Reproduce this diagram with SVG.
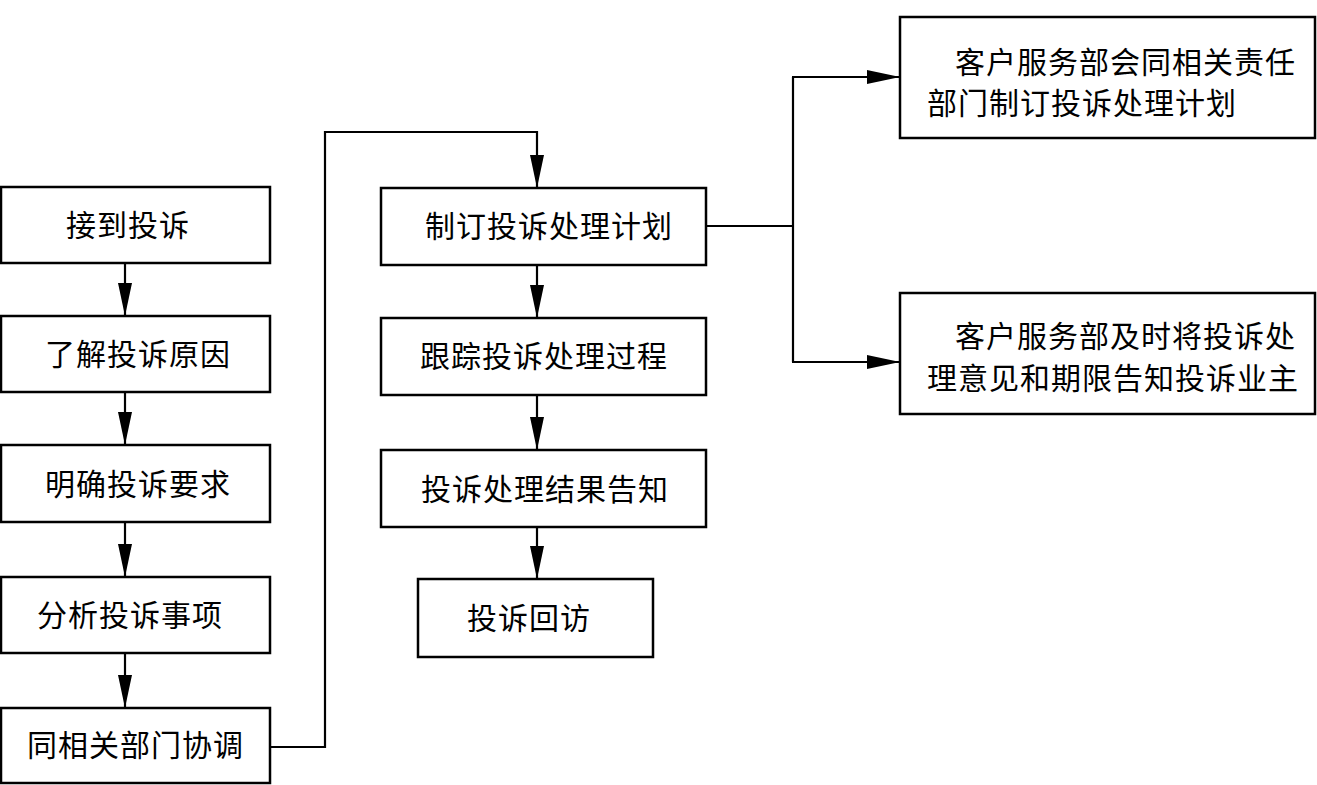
<svg xmlns="http://www.w3.org/2000/svg" width="1317" height="785" viewBox="0 0 1317 785">
<style>
.box{fill:#fff;stroke:#000;stroke-width:2.5}
.t{font-family:"Noto Sans CJK SC","Noto Sans CJK TC",sans-serif;font-size:30px;fill:#000;dominant-baseline:central;letter-spacing:1px}
.c{fill:none;stroke:#000;stroke-width:2.2}
</style>
<defs>
<marker id="ah" markerUnits="userSpaceOnUse" markerWidth="34" markerHeight="14" refX="33" refY="7" orient="auto">
<path d="M0,0 L33,7 L0,14 z" fill="#000"/>
</marker>
</defs>
<rect width="1317" height="785" fill="#fff"/>
<g id="connectors">
<line class="c" x1="125" y1="263" x2="125" y2="316" marker-end="url(#ah)"/>
<line class="c" x1="125" y1="392" x2="125" y2="445" marker-end="url(#ah)"/>
<line class="c" x1="125" y1="522" x2="125" y2="577" marker-end="url(#ah)"/>
<line class="c" x1="125" y1="653" x2="125" y2="708" marker-end="url(#ah)"/>
<polyline class="c" points="270,747 325,747 325,132 537,132 537,188" marker-end="url(#ah)"/>
<line class="c" x1="537" y1="265" x2="537" y2="318" marker-end="url(#ah)"/>
<line class="c" x1="537" y1="395" x2="537" y2="450" marker-end="url(#ah)"/>
<line class="c" x1="537" y1="527" x2="537" y2="579" marker-end="url(#ah)"/>
<line class="c" x1="706" y1="226" x2="793" y2="226"/>
<line class="c" x1="793" y1="77" x2="793" y2="362"/>
<line class="c" x1="792" y1="77" x2="900" y2="77" marker-end="url(#ah)"/>
<line class="c" x1="792" y1="362" x2="900" y2="362" marker-end="url(#ah)"/>
</g>
<g id="n1"><rect class="box" x="1" y="187" width="269" height="76"/><text class="t" x="66" y="223">接到投诉</text></g>
<g id="n2"><rect class="box" x="1" y="316" width="269" height="76"/><text class="t" x="45" y="352">了解投诉原因</text></g>
<g id="n3"><rect class="box" x="1" y="445" width="269" height="77"/><text class="t" x="45" y="482">明确投诉要求</text></g>
<g id="n4"><rect class="box" x="1" y="577" width="269" height="76"/><text class="t" x="37" y="613">分析投诉事项</text></g>
<g id="n5"><rect class="box" x="1" y="708" width="269" height="75"/><text class="t" x="27" y="743">同相关部门协调</text></g>
<g id="n6"><rect class="box" x="381" y="188" width="325" height="77"/><text class="t" x="425" y="224">制订投诉处理计划</text></g>
<g id="n7"><rect class="box" x="381" y="318" width="325" height="77"/><text class="t" x="420" y="354">跟踪投诉处理过程</text></g>
<g id="n8"><rect class="box" x="381" y="450" width="325" height="77"/><text class="t" x="421" y="487">投诉处理结果告知</text></g>
<g id="n9"><rect class="box" x="418" y="579" width="235" height="78"/><text class="t" x="467" y="616">投诉回访</text></g>
<g id="n10"><rect class="box" x="900" y="17" width="415" height="121"/><text class="t" x="955" y="60">客户服务部会同相关责任</text><text class="t" x="927" y="101">部门制订投诉处理计划</text></g>
<g id="n11"><rect class="box" x="900" y="293" width="415" height="121"/><text class="t" x="955" y="334">客户服务部及时将投诉处</text><text class="t" x="927" y="376">理意见和期限告知投诉业主</text></g>
</svg>
